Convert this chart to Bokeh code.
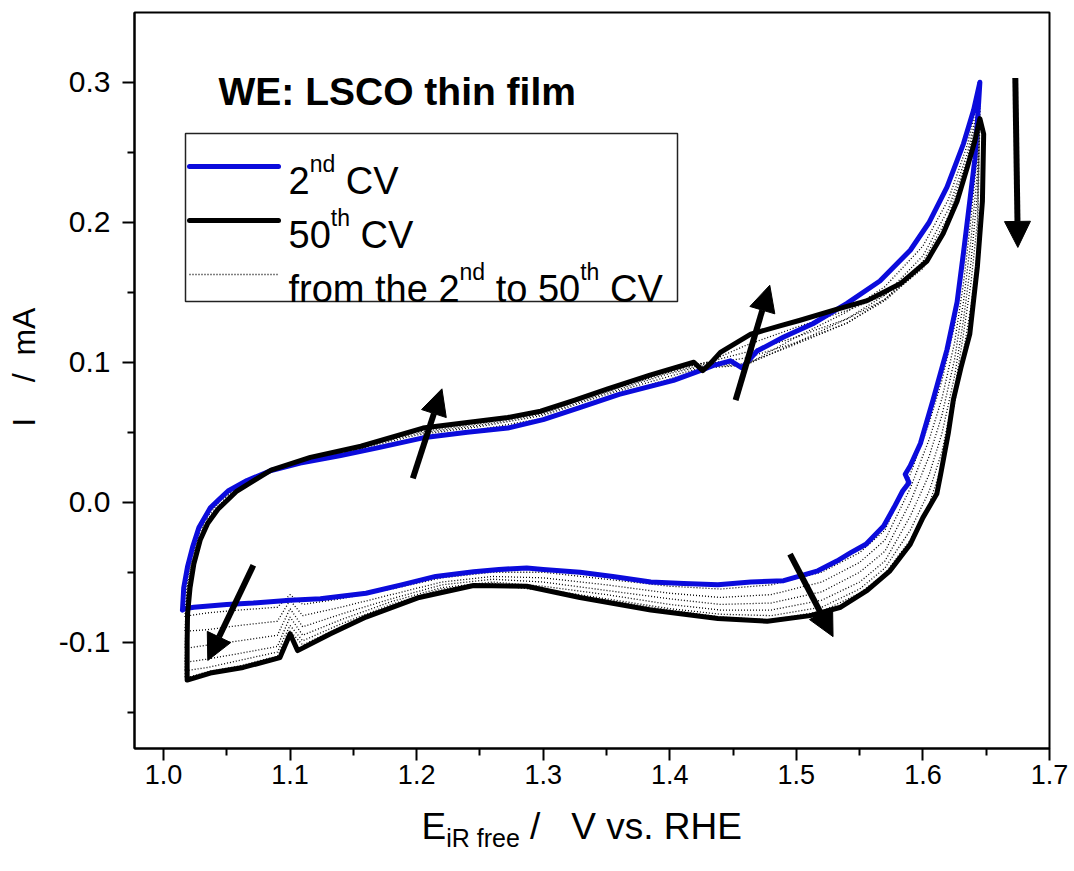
from bokeh.plotting import figure
from bokeh.layouts import column
from bokeh.models import (Range1d, FixedTicker, PrintfTickFormatter, Label,
                          BoxAnnotation, Arrow, NormalHead, ColumnDataSource)
from bokeh.embed import file_html
from bokeh.resources import INLINE

# ---------------- data ----------------
# 2nd CV (blue)
CV2_E_AN = [1.015, 1.016, 1.019, 1.023, 1.028, 1.037, 1.044, 1.051, 1.066, 1.085, 1.108, 1.140,
            1.170, 1.205, 1.240, 1.272, 1.300, 1.330, 1.360, 1.403, 1.424, 1.434, 1.448, 1.457,
            1.469, 1.490, 1.513, 1.540, 1.566, 1.590, 1.605, 1.619, 1.632, 1.640, 1.645]
CV2_I_AN = [-0.077, -0.061, -0.046, -0.032, -0.018, -0.004, 0.002, 0.008, 0.0155, 0.0227, 0.028, 0.0334,
            0.039, 0.046, 0.050, 0.053, 0.059, 0.068, 0.077, 0.087, 0.094, 0.0976, 0.101, 0.096,
            0.108, 0.118, 0.1275, 0.142, 0.158, 0.180, 0.200, 0.225, 0.256, 0.280, 0.300]
CV2_E_CA = [1.645, 1.644, 1.641, 1.637, 1.632, 1.627, 1.619, 1.608, 1.598, 1.590, 1.586, 1.589,
            1.584, 1.577, 1.569, 1.555, 1.543, 1.532, 1.517, 1.490, 1.464, 1.438, 1.411, 1.385,
            1.355, 1.329, 1.300, 1.287, 1.265, 1.245, 1.215, 1.188, 1.160, 1.124, 1.100, 1.071,
            1.050, 1.024, 1.017, 1.015]
CV2_I_CA = [0.300, 0.285, 0.245, 0.215, 0.178, 0.143, 0.109, 0.073, 0.042, 0.026, 0.020, 0.014,
            0.008, -0.004, -0.017, -0.030, -0.036, -0.042, -0.049, -0.056, -0.057, -0.059, -0.058, -0.057,
            -0.053, -0.050, -0.048, -0.047, -0.048, -0.0497, -0.053, -0.059, -0.065, -0.069, -0.070, -0.072,
            -0.073, -0.075, -0.076, -0.077]

# 50th CV (black)
CV50_E_AN = [1.0187, 1.0187, 1.019, 1.021, 1.024, 1.029, 1.035, 1.043, 1.058, 1.085, 1.116, 1.156,
             1.205, 1.240, 1.272, 1.298, 1.325, 1.351, 1.385, 1.419, 1.426, 1.433, 1.440, 1.464,
             1.487, 1.503, 1.529, 1.556, 1.582, 1.603, 1.616, 1.627, 1.635, 1.641, 1.645]
CV50_I_AN = [-0.127, -0.100, -0.080, -0.061, -0.044, -0.027, -0.015, -0.005, 0.008, 0.023, 0.032, 0.040,
             0.053, 0.057, 0.0605, 0.065, 0.073, 0.081, 0.091, 0.100, 0.094, 0.100, 0.107, 0.120,
             0.126, 0.130, 0.137, 0.144, 0.156, 0.172, 0.192, 0.215, 0.239, 0.258, 0.274]
CV50_E_CA = [1.645, 1.648, 1.647, 1.643, 1.637, 1.630, 1.624, 1.620, 1.614, 1.611, 1.600, 1.590,
             1.574, 1.556, 1.535, 1.511, 1.477, 1.438, 1.385, 1.329, 1.287, 1.245, 1.202, 1.160,
             1.132, 1.106, 1.100, 1.092, 1.063, 1.037, 1.0187]
CV50_I_CA = [0.274, 0.263, 0.215, 0.168, 0.120, 0.096, 0.073, 0.049, 0.020, 0.006, -0.011, -0.030,
             -0.049, -0.063, -0.075, -0.081, -0.085, -0.083, -0.077, -0.068, -0.060, -0.0595, -0.068, -0.082,
             -0.094, -0.106, -0.094, -0.111, -0.118, -0.122, -0.127]

# intermediate cycles (dotted), sampled on common potentials
MID_E_AN = [1.017, 1.019, 1.022, 1.027, 1.035, 1.045, 1.06, 1.08, 1.11, 1.15, 1.20, 1.25,
            1.30, 1.35, 1.40, 1.43, 1.46, 1.50, 1.54, 1.57, 1.60, 1.62, 1.635, 1.645]
MID_E_CA = [1.645, 1.643, 1.638, 1.632, 1.625, 1.615, 1.605, 1.59, 1.57, 1.55, 1.52, 1.48,
            1.44, 1.40, 1.35, 1.30, 1.26, 1.22, 1.18, 1.14, 1.11, 1.10, 1.09, 1.06,
            1.035, 1.02, 1.017]
CYC06_I_AN = [-0.082, -0.055, -0.040, -0.023, -0.008, 0.002, 0.011, 0.021, 0.028, 0.036, 0.046, 0.052,
              0.060, 0.075, 0.088, 0.096, 0.098, 0.118, 0.136, 0.154, 0.183, 0.216, 0.255, 0.293]
CYC06_I_CA = [0.293, 0.262, 0.218, 0.168, 0.126, 0.087, 0.057, 0.020, -0.020, -0.036, -0.050, -0.059,
              -0.062, -0.060, -0.055, -0.050, -0.050, -0.054, -0.062, -0.069, -0.073, -0.066, -0.075, -0.077,
              -0.079, -0.081, -0.082]
CYC14_I_AN = [-0.092, -0.060, -0.043, -0.025, -0.010, 0.001, 0.010, 0.021, 0.029, 0.037, 0.048, 0.054,
              0.062, 0.077, 0.090, 0.097, 0.098, 0.114, 0.131, 0.148, 0.176, 0.209, 0.249, 0.287]
CYC14_I_CA = [0.287, 0.250, 0.203, 0.156, 0.114, 0.074, 0.045, 0.010, -0.027, -0.043, -0.057, -0.066,
              -0.068, -0.065, -0.059, -0.054, -0.053, -0.057, -0.066, -0.075, -0.081, -0.070, -0.085, -0.088,
              -0.091, -0.092, -0.092]
CYC22_I_AN = [-0.104, -0.064, -0.046, -0.027, -0.012, -0.001, 0.010, 0.021, 0.029, 0.038, 0.049, 0.055,
              0.063, 0.078, 0.092, 0.098, 0.099, 0.113, 0.128, 0.145, 0.172, 0.204, 0.245, 0.283]
CYC22_I_CA = [0.283, 0.235, 0.188, 0.143, 0.102, 0.062, 0.033, 0.000, -0.035, -0.050, -0.064, -0.072,
              -0.073, -0.069, -0.063, -0.057, -0.055, -0.059, -0.069, -0.080, -0.089, -0.076, -0.095, -0.099,
              -0.102, -0.104, -0.104]
CYC30_I_AN = [-0.114, -0.068, -0.049, -0.029, -0.013, -0.002, 0.009, 0.021, 0.030, 0.038, 0.050, 0.056,
              0.064, 0.079, 0.093, 0.099, 0.103, 0.114, 0.128, 0.144, 0.168, 0.200, 0.242, 0.280]
CYC30_I_CA = [0.280, 0.220, 0.172, 0.130, 0.090, 0.049, 0.020, -0.010, -0.042, -0.057, -0.070, -0.077,
              -0.077, -0.073, -0.066, -0.060, -0.057, -0.061, -0.071, -0.084, -0.095, -0.082, -0.103, -0.108,
              -0.112, -0.114, -0.114]
CYC38_I_AN = [-0.120, -0.072, -0.051, -0.030, -0.014, -0.003, 0.009, 0.021, 0.030, 0.039, 0.051, 0.057,
              0.064, 0.080, 0.094, 0.100, 0.107, 0.118, 0.131, 0.145, 0.167, 0.199, 0.240, 0.277]
CYC38_I_CA = [0.277, 0.200, 0.157, 0.120, 0.080, 0.036, 0.008, -0.020, -0.047, -0.062, -0.075, -0.081,
              -0.080, -0.076, -0.069, -0.062, -0.058, -0.062, -0.073, -0.087, -0.099, -0.088, -0.107, -0.113,
              -0.118, -0.120, -0.120]
CYC46_I_AN = [-0.125, -0.075, -0.053, -0.031, -0.015, -0.004, 0.009, 0.021, 0.030, 0.039, 0.052, 0.058,
              0.065, 0.081, 0.095, 0.100, 0.112, 0.125, 0.137, 0.148, 0.169, 0.198, 0.239, 0.275]
CYC46_I_CA = [0.275, 0.180, 0.140, 0.108, 0.071, 0.026, -0.001, -0.027, -0.051, -0.065, -0.078, -0.084,
              -0.082, -0.077, -0.070, -0.063, -0.059, -0.063, -0.075, -0.089, -0.102, -0.092, -0.110, -0.117,
              -0.121, -0.125, -0.125]
MID_CYCLES = [(CYC06_I_AN, CYC06_I_CA), (CYC14_I_AN, CYC14_I_CA), (CYC22_I_AN, CYC22_I_CA),
              (CYC30_I_AN, CYC30_I_CA), (CYC38_I_AN, CYC38_I_CA), (CYC46_I_AN, CYC46_I_CA)]

# trend arrows (tail -> head)
ARROW_E0 = [1.071, 1.197, 1.452, 1.673, 1.495]
ARROW_I0 = [-0.045, 0.017, 0.073, 0.303, -0.037]
ARROW_E1 = [1.035, 1.220, 1.479, 1.675, 1.529]
ARROW_I1 = [-0.113, 0.081, 0.155, 0.182, -0.096]

X_TICKS = [1.0, 1.1, 1.2, 1.3, 1.4, 1.5, 1.6, 1.7]
Y_TICKS = [-0.1, 0.0, 0.1, 0.2, 0.3]

# ---------------- layout helpers ----------------
W, H = 1074, 871
H_TOP = 800                                  # main figure height; the rest holds the x title
FL, FR, FT, FB = 134, 1049, 12, 748          # frame edges in page pixels
X0, X1 = 0.9771, 1.7
Y0, Y1 = -0.1759, 0.3498
NB = "\u00a0"                                # non-collapsing space

# Arial / Liberation Sans advance widths (per 1000 em) for the characters used
AW = {' ': 278, NB: 278, 'f': 278, 'r': 333, 'o': 556, 'm': 833, 't': 278, 'h': 556, 'e': 556,
      '2': 556, '5': 556, '0': 556, 'n': 556, 'd': 556, 'C': 722, 'V': 667, 'E': 667,
      'i': 222, 'R': 722, '/': 278, 'v': 500, 's': 500, '.': 278, 'H': 722}


def tw(s, size):
    return sum(AW.get(c, 556) for c in s) * size / 1000.0


def px(x):
    return X0 + (x - FL) * (X1 - X0) / (FR - FL)


def py(y):
    return Y1 - (y - FT) * (Y1 - Y0) / (FB - FT)


BLUE = "#0b0bdc"
SANS = "Liberation Sans"

p = figure(width=W, height=H_TOP, output_backend="svg", toolbar_location=None,
           x_range=Range1d(X0, X1), y_range=Range1d(Y0, Y1),
           min_border_left=FL, min_border_right=W - FR,
           min_border_top=FT, min_border_bottom=H_TOP - FB)
p.grid.visible = False
p.outline_line_color = "black"
p.outline_line_width = 2
p.background_fill_color = "white"
p.border_fill_color = "white"

p.xaxis.ticker = FixedTicker(ticks=X_TICKS, minor_ticks=[t + 0.05 for t in X_TICKS[:-1]])
p.yaxis.ticker = FixedTicker(ticks=Y_TICKS, minor_ticks=[-0.15, -0.05, 0.05, 0.15, 0.25])
for ax in (p.xaxis[0], p.yaxis[0]):
    ax.formatter = PrintfTickFormatter(format="%.1f")
    ax.axis_line_width = 2
    ax.axis_line_color = "black"
    ax.major_tick_line_width = 2
    ax.minor_tick_line_width = 2
    ax.major_tick_line_color = "black"
    ax.minor_tick_line_color = "black"
    ax.major_tick_out = 12
    ax.major_tick_in = 0
    ax.minor_tick_out = 7
    ax.minor_tick_in = 0
    ax.major_label_text_color = "black"
    ax.major_label_text_font = SANS
    ax.major_label_text_font_style = "normal"

p.xaxis.major_label_text_font_size = "27px"
p.xaxis.major_label_standoff = 4
p.yaxis.major_label_text_font_size = "30px"
p.yaxis.major_label_standoff = 12
p.yaxis.axis_label = NB * 3 + "I" + NB * 4 + "/" + NB * 2 + "mA"
p.yaxis.axis_label_text_font = SANS
p.yaxis.axis_label_text_font_size = "32px"
p.yaxis.axis_label_text_font_style = "normal"
p.yaxis.axis_label_text_color = "black"
p.yaxis.axis_label_standoff = 14

# ---------------- curves ----------------
for an, ca in MID_CYCLES:
    p.line(MID_E_AN + MID_E_CA, an + ca, line_color="black", line_width=1.3,
           line_dash="1 2")

p.line(CV2_E_AN + CV2_E_CA, CV2_I_AN + CV2_I_CA, line_color=BLUE, line_width=5,
       line_join="round", line_cap="round")
p.line(CV50_E_AN + CV50_E_CA, CV50_I_AN + CV50_I_CA, line_color="black", line_width=5,
       line_join="round", line_cap="round")

arrow_src = ColumnDataSource(dict(x0=ARROW_E0, y0=ARROW_I0, x1=ARROW_E1, y1=ARROW_I1))
p.add_layout(Arrow(source=arrow_src, x_start="x0", y_start="y0", x_end="x1", y_end="y1",
                   line_width=6, line_color="black",
                   end=NormalHead(size=26, fill_color="black", line_color="black", line_width=1)))


def txt(fig, xv, yv, s, size, style="normal"):
    fig.add_layout(Label(x=xv, y=yv, text=s.replace(" ", NB), text_font=SANS,
                         text_font_size="%dpx" % size, text_font_style=style,
                         text_color="black", text_baseline="alphabetic"))


# ---------------- title ----------------
txt(p, px(218), py(91), "WE: LSCO thin film", 39, "bold")

# ---------------- legend (drawn by hand to allow superscripts) ----------------
p.add_layout(BoxAnnotation(left=px(185), right=px(677), top=py(133), bottom=py(301),
                           fill_alpha=0.0, line_color="#222222", line_alpha=1.0,
                           line_width=1.5))
p.line([px(189), px(278)], [py(166), py(166)], line_color=BLUE, line_width=5, line_cap="round")
p.line([px(189), px(278)], [py(220), py(220)], line_color="black", line_width=5, line_cap="round")
p.line([px(189), px(278)], [py(274), py(274)], line_color="black", line_width=1.3,
       line_dash="1 2")

LEG, SUP, RISE = 38, 23, 17


def rich(fig, x, base, parts, conv_x, conv_y):
    """parts: list of (text, size, baseline shift)"""
    for s, size, shift in parts:
        txt(fig, conv_x(x), conv_y(base + shift), s, size)
        x += tw(s, size)


rich(p, 288, 180, [("2", LEG, 0), ("nd", SUP, -RISE), (" CV", LEG, 0)], px, py)
rich(p, 288, 234, [("50", LEG, 0), ("th", SUP, -RISE), (" CV", LEG, 0)], px, py)
rich(p, 288, 288, [("from the 2", LEG, 0), ("nd", SUP, -RISE), (" to 50", LEG, 0),
                   ("th", SUP, -RISE), (" CV", LEG, 0)], px, py)

# ---------------- x axis title with subscript (own strip below the plot) ----------------
# the strip's frame is aligned with the main frame, so its x range is in page pixels
QH = H - H_TOP
q = figure(width=W, height=QH, output_backend="svg", toolbar_location=None,
           x_range=Range1d(FL, FR), y_range=Range1d(QH, 0),
           x_axis_location=None, y_axis_location=None,
           min_border_left=FL, min_border_right=W - FR,
           min_border_top=0, min_border_bottom=0)
q.grid.visible = False
q.outline_line_color = None
q.background_fill_color = "white"
q.border_fill_color = "white"

XT, XS = 37, 25
rich(q, 421, 826 - H_TOP, [("E", XT, 0), ("iR free", XS, 11), (" /   V vs. RHE", XT, 0)],
     lambda v: v, lambda v: v)

layout = column(p, q, spacing=0)
open("out.html", "w").write(file_html(layout, INLINE))
